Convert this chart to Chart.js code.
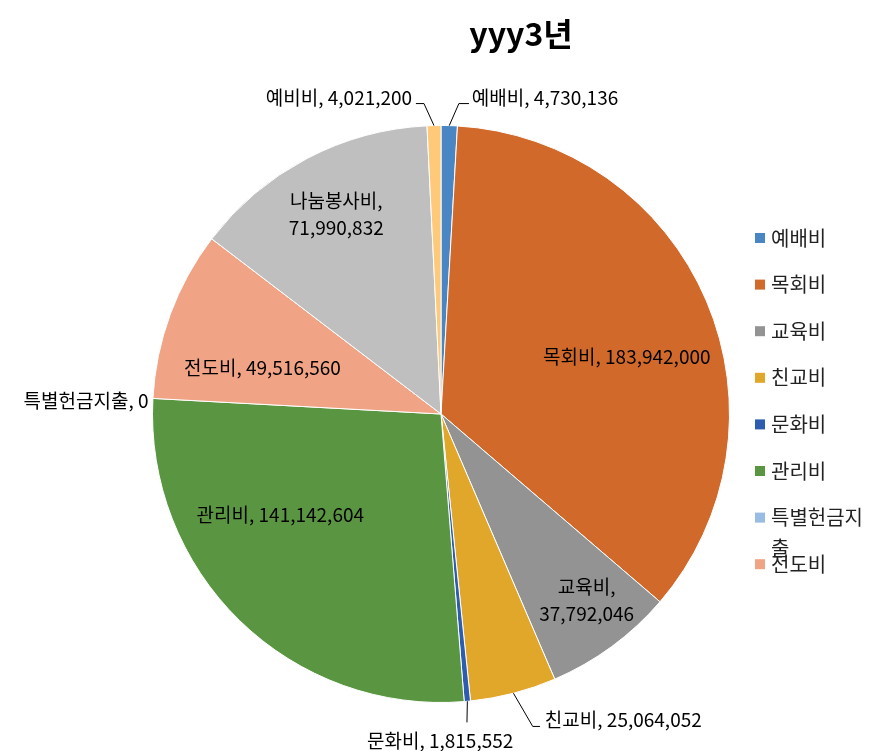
<!DOCTYPE html>
<html>
<head>
<meta charset="utf-8">
<script src="https://cdn.jsdelivr.net/npm/chart.js"></script>
<style>
  body { margin: 0; background: #fff; }
  #wrap { width: 869px; height: 751px; position: relative; }
</style>
</head>
<body>
<div id="wrap"><canvas id="budgetPie"></canvas></div>
<script>
// data
const categories = ['예배비', '목회비', '교육비', '친교비', '문화비', '관리비', '특별헌금지출', '전도비', '나눔봉사비', '예비비'];
const amounts = [4730136, 183942000, 37792046, 25064052, 1815552, 141142604, 0, 49516560, 71990832, 4021200];
const sliceColors = ['#4a86c4', '#d1692a', '#939393', '#e0a72a', '#2d5db0', '#5a9641', '#98bce3', '#f0a485', '#bfbfbf', '#fec979'];
const titleText = 'yyy3년';
const legendShown = 8; // the legend box is clipped after 8 entries

// label placement, in units of the pie radius from its centre
const labelLayout = [
  { x: 0.107, y: -1.097, align: 'left', elbow: [0.062, -1.076], end: 0.097 },
  { x: 0.644, y: -0.197, align: 'center' },
  { x: 0.505, y: 0.645, align: 'center', split: true },
  { x: 0.360, y: 1.059, align: 'left', elbow: [0.318, 1.083], end: 0.343 },
  { x: -0.003, y: 1.132, align: 'center', elbow: [0.090, 1.069], end: 0.090 },
  { x: -0.557, y: 0.349, align: 'center' },
  { x: -1.014, y: -0.045, align: 'right' },
  { x: -0.619, y: -0.159, align: 'center' },
  { x: -0.363, y: -0.692, align: 'center', split: true },
  { x: -0.100, y: -1.097, align: 'right', elbow: [-0.059, -1.076], end: -0.087 }
];

const FONT = "'Noto Sans CJK KR', 'Malgun Gothic', sans-serif";

const fmt = v => v.toLocaleString('en-US');

const decorations = {
  id: 'decorations',
  afterDraw(chart) {
    const ctx = chart.ctx;
    const meta = chart.getDatasetMeta(0);
    ctx.save();

    // title
    ctx.fillStyle = '#000';
    ctx.font = 'bold 32px ' + FONT;
    ctx.textAlign = 'center';
    ctx.textBaseline = 'middle';
    ctx.fillText(titleText, 521, 34);

    // data labels
    ctx.font = '19px ' + FONT;
    ctx.strokeStyle = '#000';
    ctx.lineWidth = 1;
    meta.data.forEach((arc, i) => {
      const p = arc.getProps(['x', 'y', 'startAngle', 'endAngle', 'outerRadius'], true);
      const R = p.outerRadius;
      const L = labelLayout[i];
      const tx = p.x + L.x * R;
      const ty = p.y + L.y * R;
      if (L.elbow) {
        const mid = (p.startAngle + p.endAngle) / 2;
        const sx = p.x + Math.cos(mid) * R;
        const sy = p.y + Math.sin(mid) * R;
        const ex = p.x + L.elbow[0] * R;
        const ey = p.y + L.elbow[1] * R;
        ctx.beginPath();
        ctx.moveTo(sx, sy);
        ctx.lineTo(ex, ey);
        ctx.lineTo(p.x + L.end * R, ey);
        ctx.stroke();
      }
      ctx.fillStyle = '#000';
      ctx.textAlign = L.align;
      ctx.textBaseline = 'middle';
      if (L.split) {
        ctx.fillText(categories[i] + ',', tx, ty - 13.5);
        ctx.fillText(fmt(amounts[i]), tx, ty + 13.5);
      } else {
        ctx.fillText(categories[i] + ', ' + fmt(amounts[i]), tx, ty);
      }
    });

    // legend
    ctx.font = '20px ' + FONT;
    ctx.textAlign = 'left';
    const lx = 755, top = 238, step = 46.6, maxW = chart.width - 771;
    for (let i = 0; i < legendShown; i++) {
      const y = top + i * step;
      ctx.fillStyle = sliceColors[i];
      ctx.fillRect(lx, y - 5, 10, 10);
      ctx.fillStyle = '#222';
      let line = '', lines = [];
      for (const ch of categories[i]) {
        if (ctx.measureText(line + ch).width > maxW) { lines.push(line); line = ch; }
        else line += ch;
      }
      lines.push(line);
      lines.forEach((t, k) => ctx.fillText(t, 771, y + k * 31));
    }
    ctx.restore();
  }
};

new Chart(document.getElementById('budgetPie'), {
  type: 'pie',
  data: {
    labels: categories,
    datasets: [{
      data: amounts,
      backgroundColor: sliceColors,
      borderColor: '#ffffff',
      borderWidth: 1
    }]
  },
  options: {
    responsive: true,
    maintainAspectRatio: false,
    animation: false,
    layout: { padding: { left: 152, right: 139, top: 125, bottom: 48 } },
    plugins: {
      legend: { display: false },
      title: { display: false },
      tooltip: { enabled: false }
    }
  },
  plugins: [decorations]
});
</script>
</body>
</html>
